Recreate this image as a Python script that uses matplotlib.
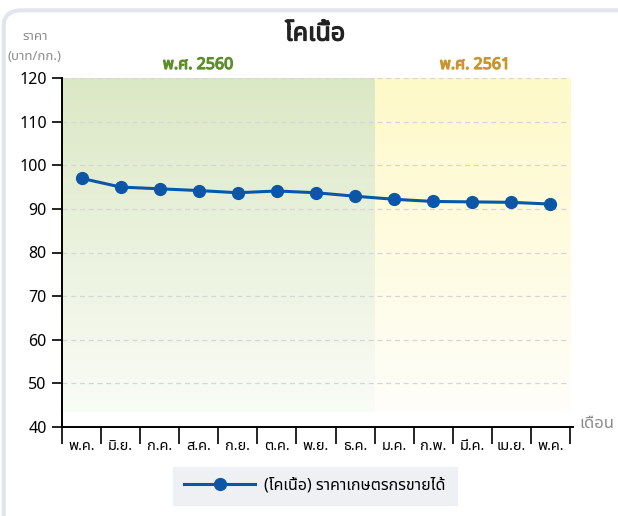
import numpy as np
import matplotlib
matplotlib.use('Agg')
import matplotlib.pyplot as plt
import matplotlib.patheffects as pe
from matplotlib import font_manager
from matplotlib.ft2font import FT2Font
from matplotlib.patches import FancyBboxPatch
from matplotlib.lines import Line2D

months = ['พ.ค.', 'มิ.ย.', 'ก.ค.', 'ส.ค.', 'ก.ย.', 'ต.ค.', 'พ.ย.', 'ธ.ค.',
          'ม.ค.', 'ก.พ.', 'มี.ค.', 'เม.ย.', 'พ.ค.']
prices = [97.0, 95.0, 94.6, 94.2, 93.7, 94.1, 93.7, 92.9, 92.2, 91.7, 91.6, 91.5, 91.1]
yticks = [40, 50, 60, 70, 80, 90, 100, 110, 120]
n_2560 = 8  # months belonging to 2560


def find_thai_font():
    names = []
    for f in font_manager.fontManager.ttflist:
        try:
            if 0x0E01 in FT2Font(f.fname).get_charmap():
                names.append(f.name)
        except Exception:
            pass
    for pref in ['Noto Sans Thai', 'Noto Sans Thai UI', 'Noto Sans']:
        if pref in names:
            return pref
    return names[0] if names else 'DejaVu Sans'


def bold(color, w=0.9):
    return [pe.withStroke(linewidth=w, foreground=color)]


thai = find_thai_font()
plt.rcParams['font.family'] = [thai, 'DejaVu Sans']

fig = plt.figure(figsize=(6.18, 5.16), dpi=100)
card = FancyBboxPatch((0.006, -0.2), 1.2, 1.18, boxstyle='round,pad=0,rounding_size=0.03',
                      transform=fig.transFigure, facecolor='white', edgecolor='#e1e6ec',
                      lw=3, zorder=-5)
fig.patches.append(card)

ax = fig.add_axes([62 / 618, 89 / 516, 508 / 618, 349 / 516])
ax.set_facecolor('none')
x = np.arange(len(months))

# gradient backgrounds
grad = np.linspace(0, 1, 256).reshape(-1, 1)
def shade(top, bottom):
    top = np.array(matplotlib.colors.to_rgb(top))
    bottom = np.array(matplotlib.colors.to_rgb(bottom))
    return (top * (1 - grad) + bottom * grad)[:, None, :].repeat(2, axis=1)

ax.imshow(shade('#dbe8c5', '#fafcf6'), extent=[-0.5, n_2560 - 0.5, 43.5, 120],
          aspect='auto', zorder=0)
ax.imshow(shade('#fef9c8', '#fffefa'), extent=[n_2560 - 0.5, len(months) - 0.5, 43.5, 120],
          aspect='auto', zorder=0)
ax.set_xlim(-0.5, len(months) - 0.5)
ax.set_ylim(40, 120)

for v in yticks[1:]:
    ax.axhline(v, color='#d6d6d6', lw=0.9, ls=(0, (4, 3)), zorder=1)

ax.plot(x, prices, color='#0b56a6', lw=2.2, marker='o', ms=8.5, zorder=3)

ax.set_yticks(yticks)
ax.set_yticklabels([str(v) for v in yticks], fontsize=11.5)
ax.tick_params(axis='y', length=7, width=1.2, pad=4)
ax.set_xticks(np.arange(-0.5, len(months)), minor=False)
ax.set_xticklabels([])
ax.tick_params(axis='x', which='major', length=12, width=1.2)
ax.set_xticks(x, minor=True)
ax.set_xticklabels(months, minor=True, fontsize=10.5)
ax.tick_params(axis='x', which='minor', length=0, pad=9)
for s in ['top', 'right']:
    ax.spines[s].set_visible(False)
for s in ['left', 'bottom']:
    ax.spines[s].set_linewidth(1.4)
ax.spines['bottom'].set_bounds(-0.5, len(months) - 0.42)

fig.text(315 / 618, 1 - 34 / 516, 'โคเนื้อ', fontsize=18, fontweight='bold',
         ha='center', va='center', color='#222222', path_effects=bold('#222222'))
fig.text(35 / 618, 1 - 37 / 516, 'ราคา', fontsize=9.5, ha='center', va='center', color='#8a8a8a')
fig.text(35 / 618, 1 - 56 / 516, '(บาท/กก.)', fontsize=9.5, ha='center', va='center', color='#8a8a8a')
fig.text(198 / 618, 1 - 65 / 516, 'พ.ศ. 2560', fontsize=11.5, fontweight='bold',
         ha='center', va='center', color='#5d8e2c', path_effects=bold('#5d8e2c'))
fig.text(475 / 618, 1 - 65 / 516, 'พ.ศ. 2561', fontsize=11.5, fontweight='bold',
         ha='center', va='center', color='#c8952e', path_effects=bold('#c8952e'))
fig.text(597 / 618, 1 - 424 / 516, 'เดือน', fontsize=12, ha='center', va='center', color='#8a8a8a')

handle = Line2D([], [], color='#0b56a6', lw=2.2, marker='o', ms=8.5)
fig.legend([handle], ['(โคเนื้อ) ราคาเกษตรกรขายได้'], loc='center',
           bbox_to_anchor=(315 / 618, 1 - 486 / 516), frameon=True, fancybox=False,
           facecolor='#eef0f3', edgecolor='#eef0f3', framealpha=1, fontsize=11.5,
           handlelength=4.4, handletextpad=0.6, borderpad=0.7, borderaxespad=0)

fig.savefig('out.png', dpi=100)
